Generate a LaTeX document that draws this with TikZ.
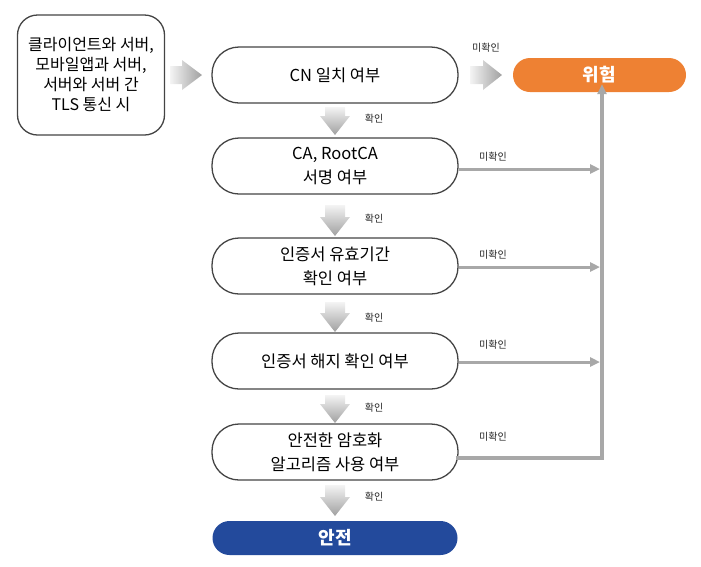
\documentclass[tikz,border=0pt]{standalone}
\usepackage{fontspec}
\setmainfont{Noto Sans CJK KR}
\usetikzlibrary{arrows.meta}
\definecolor{boxline}{HTML}{444444}
\definecolor{linegray}{HTML}{A8A8A8}
\definecolor{arrowgray}{HTML}{A0A0A0}
\definecolor{arrowlight}{HTML}{F4F4F4}
\definecolor{dangerorange}{HTML}{EE8133}
\definecolor{safeblue}{HTML}{234A9C}
\begin{document}
\begin{tikzpicture}[x=1pt,y=-1pt,
  stepbox/.style={draw=boxline,line width=1.3pt,fill=white,rounded corners=27pt,
    minimum width=246pt,minimum height=56pt,inner sep=0pt,align=center,
    font=\fontsize{16.5}{24}\selectfont},
  startbox/.style={draw=boxline,line width=1.3pt,fill=white,rounded corners=20pt,
    minimum width=147pt,minimum height=120pt,inner sep=0pt,align=center,
    font=\fontsize{16}{20}\selectfont},
  resultbox/.style={rounded corners=17pt,minimum height=34pt,inner sep=0pt,
    text=white,font=\fontsize{18}{20}\selectfont\bfseries},
  smalllabel/.style={font=\fontsize{10}{12}\selectfont,text=black!85},
  grayline/.style={draw=linegray,line width=3pt},
  grayarrow/.style={grayline,-{Triangle[length=10pt,width=9pt]}},
  fatright/.style={left color=arrowlight,right color=arrowgray},
  fatdown/.style={top color=arrowlight,bottom color=arrowgray}
]
\useasboundingbox (0,0) rectangle (701,566);

% nodes
\node[startbox] (start) at (91,75) {클라이언트와 서버,\\모바일앱과 서버,\\서버와 서버 간\\TLS 통신 시};
\node[stepbox] (cn) at (335,75) {CN 일치 여부};
\node[stepbox] (ca) at (335,166) {CA, RootCA\\서명 여부};
\node[stepbox] (valid) at (335,266) {인증서 유효기간\\확인 여부};
\node[stepbox] (revoke) at (335,361) {인증서 해지 확인 여부};
\node[stepbox] (algo) at (335,452) {안전한 암호화\\알고리즘 사용 여부};
\node[resultbox,fill=safeblue,minimum width=245pt] (safe) at (335,538) {안전};
\node[resultbox,fill=dangerorange,minimum width=173pt] (danger) at (599.5,75) {위험};

% fat horizontal arrows
\shade[fatright] (170,66) -- (182,66) -- (182,60) -- (202,75) -- (182,90) -- (182,84) -- (170,84) -- cycle;
\shade[fatright] (470,66) -- (483,66) -- (483,60) -- (502,75) -- (483,90) -- (483,84) -- (470,84) -- cycle;
\node[smalllabel] (l0) at (486,48) {미확인};

% fat down arrows
\foreach \t/\b in {107/135, 205/236, 302/332, 395/423, 485/516}{
  \shade[fatdown] (325,\t) -- (345,\t) -- (345,\b-19) -- (350,\b-19) -- (335,\b) -- (320,\b-19) -- (325,\b-19) -- cycle;
}
\node[smalllabel] (k1) at (374,119) {확인};
\node[smalllabel] (k2) at (374,219) {확인};
\node[smalllabel] (k3) at (374,318) {확인};
\node[smalllabel] (k4) at (374,408) {확인};
\node[smalllabel] (k5) at (374,497) {확인};

% collecting line
\coordinate (bus) at (602,458);
\coordinate (busca) at (602,169);
\coordinate (busvalid) at (602,267);
\coordinate (busrevoke) at (602,362);
\draw[grayline,line width=3.5pt] (algo.east |- bus) ++(-3,0) -- (bus) -- (602,300);
\draw[grayarrow,line width=3.5pt] (602,300) -- (danger.south -| bus) ++(0,-8);
\draw[grayarrow] (ca.east |- busca) -- ([xshift=-2pt]busca);
\draw[grayarrow] (valid.east |- busvalid) -- ([xshift=-2pt]busvalid);
\draw[grayarrow] (revoke.east |- busrevoke) -- ([xshift=-2pt]busrevoke);
\node[smalllabel] (m1) at (493,157) {미확인};
\node[smalllabel] (m2) at (493,255) {미확인};
\node[smalllabel] (m3) at (493,345) {미확인};
\node[smalllabel] (m4) at (493,437) {미확인};
\end{tikzpicture}
\end{document}
